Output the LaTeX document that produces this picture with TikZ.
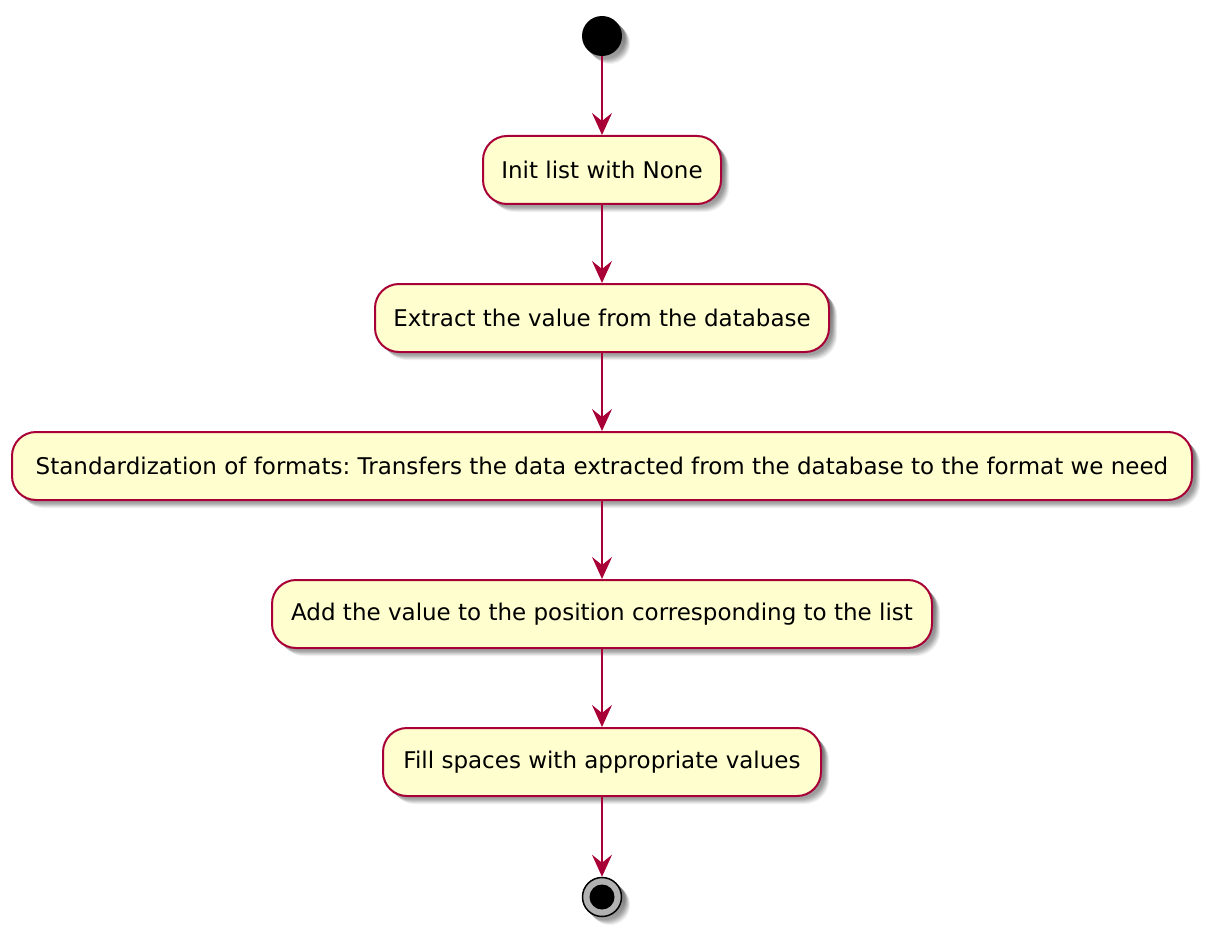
\documentclass[tikz,border=0pt]{standalone}
\usepackage{fontspec}
\setmainfont{DejaVu Sans}
\usetikzlibrary{arrows.meta}
\definecolor{pumlred}{HTML}{A80036}
\definecolor{pumlfill}{HTML}{FEFECE}
\definecolor{shade}{HTML}{707070}
\tikzset{
  actbox/.style={draw=pumlred, line width=2pt, fill=pumlfill, rounded corners=24pt,
    minimum height=68pt, inner xsep=8pt, font=\fontsize{23}{27}\selectfont},
  flow/.style={draw=pumlred, line width=1.5pt, -{Stealth[length=22pt,width=20pt,inset=8pt]}},
}
\newcommand\shadowbox[4]{%
  \foreach \o/\a in {8/0.06,7/0.08,6/0.10,5/0.12,4/0.15,3/0.15}{
    \fill[shade, opacity=\a, rounded corners=24pt] (#1+\o,#2+\o) rectangle (#3+\o,#4+\o);}
}
\begin{document}
\frenchspacing
\begin{tikzpicture}[x=1pt,y=-1pt]
\useasboundingbox (0,0) rectangle (1212,936);
% shadows
\foreach \o/\a in {8/0.06,7/0.08,6/0.10,5/0.12,4/0.15,3/0.15}{
  \fill[shade, opacity=\a] (602+\o,36+\o) circle (20);
  \fill[shade, opacity=\a] (602+\o,897+\o) circle (20);
}
\shadowbox{483}{136}{721}{204}
\shadowbox{375}{284}{829}{352}
\shadowbox{12}{432}{1192}{500}
\shadowbox{272}{580}{932}{648}
\shadowbox{383}{728}{821}{796}
% start
\node[circle, fill=black, minimum size=40pt, inner sep=0pt] (start) at (602,36) {};
% boxes
\node[actbox, minimum width=238pt] (a1) at (602,170) {Init list with None};
\node[actbox, minimum width=454pt] (a2) at (602,318) {Extract the value from the database};
\node[actbox, minimum width=1180pt] (a3) at (602,466) {Standardization of formats: Transfers the data extracted from the database to the format we need};
\node[actbox, minimum width=660pt] (a4) at (602,614) {Add the value to the position corresponding to the list};
\node[actbox, minimum width=438pt] (a5) at (602,762) {Fill spaces with appropriate values};
% end
\node[circle, draw=black, line width=1.5pt, fill=black!30, minimum size=39pt, inner sep=0pt] (stop) at (602,897) {};
\node[circle, fill=black, minimum size=25pt, inner sep=0pt] (stopin) at (stop.center) {};
% flows
\draw[flow] (start) -- (a1);
\draw[flow] (a1) -- (a2);
\draw[flow] (a2) -- (a3);
\draw[flow] (a3) -- (a4);
\draw[flow] (a4) -- (a5);
\draw[flow] (a5) -- (stop);
\end{tikzpicture}
\end{document}
